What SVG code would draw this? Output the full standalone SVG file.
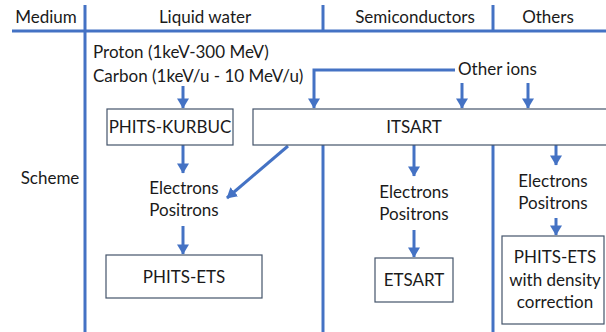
<svg xmlns="http://www.w3.org/2000/svg" width="606" height="332" viewBox="0 0 606 332">
<defs>
<marker id="ah" markerWidth="4" markerHeight="4" refX="3.2" refY="2" orient="auto" markerUnits="strokeWidth">
<path d="M0,0 L3.4,2 L0,4 Z" fill="#4472C4"/>
</marker>
<style>
text{font-family:Lato,"Liberation Sans",sans-serif;font-size:17px;fill:#1a1a1a}
.c{text-anchor:middle}
.ln{stroke:#4472C4;stroke-width:3;fill:none}
.ar{stroke:#4472C4;stroke-width:3;fill:none;marker-end:url(#ah)}
.bx{fill:#fff;stroke:#44546A;stroke-width:1.2}
</style>
</defs>
<rect width="606" height="332" fill="#fff"/>
<g id="grid">
<line class="ln" x1="12" y1="31" x2="606" y2="31"/>
<line class="ln" x1="85" y1="5" x2="85" y2="332"/>
<line class="ln" x1="323" y1="5" x2="323" y2="31"/>
<line class="ln" x1="493" y1="5" x2="493" y2="31"/>
<line class="ln" x1="323" y1="145" x2="323" y2="332"/>
<line class="ln" x1="493" y1="145" x2="493" y2="332"/>
</g>
<g id="headers">
<text x="46" y="23" class="c">Medium</text>
<text x="205" y="23" class="c">Liquid water</text>
<text x="415" y="23" class="c">Semiconductors</text>
<text x="548" y="23" class="c">Others</text>
<text x="50" y="184" class="c">Scheme</text>
</g>
<g id="connectors">
<line class="ar" x1="183" y1="86" x2="183" y2="108"/>
<polyline class="ar" points="455,70 314,70 314,108"/>
<line class="ar" x1="462" y1="83" x2="462" y2="108"/>
<line class="ar" x1="528" y1="83" x2="528" y2="108"/>
<line class="ar" x1="183" y1="145" x2="183" y2="173"/>
<line class="ar" x1="288" y1="146" x2="227" y2="198"/>
<line class="ar" x1="183" y1="226" x2="183" y2="254"/>
<line class="ar" x1="414" y1="145" x2="414" y2="176"/>
<line class="ar" x1="414" y1="230" x2="414" y2="257"/>
<line class="ar" x1="556" y1="145" x2="556" y2="165"/>
<line class="ar" x1="556" y1="218" x2="556" y2="235"/>
</g>
<g id="sources">
<text x="93" y="58">Proton (1keV-300 MeV)</text>
<text x="93" y="82">Carbon (1keV/u - 10 MeV/u)</text>
<text x="458" y="75">Other ions</text>
</g>
<g id="phits-kurbuc">
<rect class="bx" x="107" y="109" width="126" height="36"/>
<text x="170" y="133" class="c">PHITS-KURBUC</text>
</g>
<g id="itsart">
<rect class="bx" x="253" y="109" width="360" height="36"/>
<text x="414" y="133" class="c">ITSART</text>
</g>
<g id="ep-water">
<text x="184" y="194" class="c">Electrons</text>
<text x="184" y="216" class="c">Positrons</text>
</g>
<g id="phits-ets">
<rect class="bx" x="106" y="255" width="156" height="43"/>
<text x="184" y="283" class="c">PHITS-ETS</text>
</g>
<g id="ep-semi">
<text x="414" y="198" class="c">Electrons</text>
<text x="414" y="220" class="c">Positrons</text>
</g>
<g id="etsart">
<rect class="bx" x="375" y="258" width="78" height="44"/>
<text x="414" y="286" class="c">ETSART</text>
</g>
<g id="ep-others">
<text x="553" y="187" class="c">Electrons</text>
<text x="553" y="209" class="c">Positrons</text>
</g>
<g id="phits-ets-density">
<rect class="bx" x="502" y="236" width="102" height="88"/>
<text x="555" y="263" class="c">PHITS-ETS</text>
<text x="555" y="286" class="c">with density</text>
<text x="555" y="308" class="c">correction</text>
</g>
</svg>
